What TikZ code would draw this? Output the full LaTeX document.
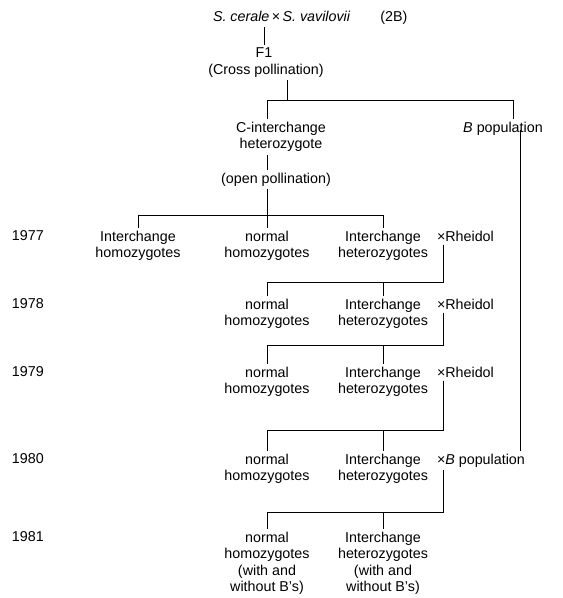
\documentclass[tikz,border=0pt]{standalone}
\usepackage{fontspec}
\setmainfont{Liberation Sans}
\usepackage{tikz}
\usetikzlibrary{positioning, calc}
\tikzstyle{txt} = [align=center, inner sep=0pt, outer sep=3pt, anchor=north, font=\fontsize{14.3}{16.5}\selectfont]
\tikzstyle{yr} = [txt, anchor=north west]
\tikzstyle{link} = [line width=0.8pt]

\begin{document}
\begin{tikzpicture}[x=1pt, y=-1pt]
    \useasboundingbox (0,0) rectangle (563,598);
    % parents and first crosses
    \node[yr] (parents) at (210,8) {\textit{S. cerale}\,×\,\textit{S. vavilovii}\hspace{30pt}(2B)};
    \node[txt] (f1) at (264,45) {F1};
    \node[txt] (cross) at (266,61) {(Cross pollination)};
    \node[txt] (cint) at (281,119) {C-interchange\\heterozygote};
    \node[txt] (bpop) at (503,119) {\textit{B} population};
    \node[txt] (openp) at (276,170) {(open pollination)};
    % 1977
    \node[yr] (y77) at (9,228) {1977};
    \node[txt] (ih77) at (138,228) {Interchange\\homozygotes};
    \node[txt] (nh77) at (267,228) {normal\\homozygotes};
    \node[txt] (he77) at (383,228) {Interchange\\heterozygotes};
    \node[yr] (rh77) at (434,228) {×Rheidol};
    % 1978
    \node[yr] (y78) at (9,296) {1978};
    \node[txt] (nh78) at (267,296) {normal\\homozygotes};
    \node[txt] (he78) at (383,296) {Interchange\\heterozygotes};
    \node[yr] (rh78) at (434,296) {×Rheidol};
    % 1979
    \node[yr] (y79) at (9,364) {1979};
    \node[txt] (nh79) at (267,364) {normal\\homozygotes};
    \node[txt] (he79) at (383,364) {Interchange\\heterozygotes};
    \node[yr] (rh79) at (434,364) {×Rheidol};
    % 1980
    \node[yr] (y80) at (9,451) {1980};
    \node[txt] (nh80) at (267,451) {normal\\homozygotes};
    \node[txt] (he80) at (383,451) {Interchange\\heterozygotes};
    \node[yr] (bp80) at (434,451) {×\textit{B} population};
    % 1981
    \node[yr] (y81) at (9,529) {1981};
    \node[txt] (nh81) at (267,529) {normal\\homozygotes\\(with and\\without B’s)};
    \node[txt] (he81) at (383,529) {Interchange\\heterozygotes\\(with and\\without B’s)};

    \coordinate (j1) at (287,100);
    \coordinate (j2) at (267,215);
    \coordinate (j3) at (443,282);
    \coordinate (j4) at (443,345);
    \coordinate (j5) at (443,430);
    \coordinate (j6) at (443,512);
    \coordinate (bdrop) at ($(bpop.north)+(10,0)$);
    \coordinate (bline) at ($(bpop.south)+(17,-8)$);

    \draw[link] (f1.north |- parents.south) -- (f1.north);
    \draw[link] (cross.south -| j1) -- (j1);
    \draw[link] (nh77.north |- cint.north) -- (nh77.north |- j1) -- (bdrop |- j1) -- (bdrop);
    \draw[link] (nh77.north |- cint.south) -- (nh77.north |- openp.north);
    \draw[link] (nh77.north |- openp.south) -- (nh77.north);
    \draw[link] (ih77.north) -- (ih77.north |- j2) -- (he77.north |- j2) -- (he77.north);
    \draw[link] (bline) -- (bline |- bp80.north);
    % backcrosses
    \draw[link] (rh77.south -| j3) -- (j3) -- (nh78.north |- j3) -- (nh78.north);
    \draw[link] (he78.north |- j3) -- (he78.north);
    \draw[link] (rh78.south -| j4) -- (j4) -- (nh79.north |- j4) -- (nh79.north);
    \draw[link] (he79.north |- j4) -- (he79.north);
    \draw[link] (rh79.south -| j5) -- (j5) -- (nh80.north |- j5) -- (nh80.north);
    \draw[link] (he80.north |- j5) -- (he80.north);
    \draw[link] (bp80.south -| j6) -- (j6) -- (nh81.north |- j6) -- (nh81.north);
    \draw[link] (he81.north |- j6) -- (he81.north);
\end{tikzpicture}
\end{document}
